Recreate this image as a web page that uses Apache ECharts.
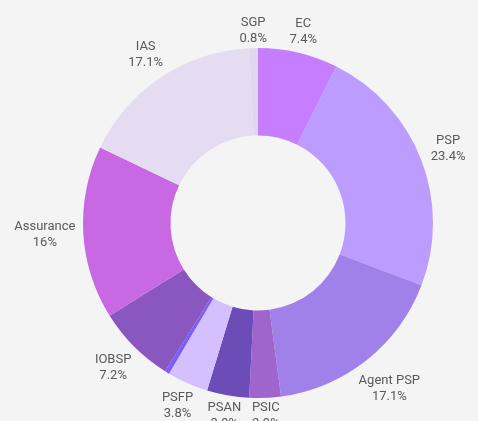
<!DOCTYPE html>
<html>
<head>
<meta charset="utf-8">
<script src="https://cdn.jsdelivr.net/npm/echarts@6/dist/echarts.min.js"></script>
<style>
html,body{margin:0;padding:0;background:#f4f4f4;}
#chart{width:478px;height:421px;}
</style>
</head>
<body>
<div id="chart"></div>
<script>
var categories = ['EC','PSP','Agent PSP','PSIC','PSAN','PSFP','Other','IOBSP','Assurance','IAS','SGP'];
var values = [7.4, 23.4, 17.1, 2.9, 3.9, 3.8, 0.4, 7.2, 16, 17.1, 0.8];
var colors = ['#c67dff','#bc9dff','#a080e9','#a064cd','#6c4db8','#d5c0ff','#7a5cff','#8a57c1','#c868e3','#e5dcf2','#e0d6ed'];

var CX = 258, CY = 223, R_IN = 87.5, R_OUT = 175, GAP_X = 7, GAP_Y = 1;

var total = values.reduce(function(a, b){ return a + b; }, 0);
var midAngles = [];
var acc = 0;
values.forEach(function(v){
  midAngles.push((acc + v / 2) / total * 2 * Math.PI);
  acc += v;
});

var sliceData = categories.map(function(c, i){
  return {name: c, value: values[i], itemStyle: {color: colors[i]}};
});

var chart = echarts.init(document.getElementById('chart'), null, {renderer: 'canvas'});
chart.setOption({
  backgroundColor: '#f4f4f4',
  animation: false,
  series: [
    {
      type: 'pie',
      center: [CX, CY],
      radius: [R_IN, R_OUT],
      startAngle: 90,
      clockwise: true,
      silent: true,
      minShowLabelAngle: 2,
      avoidLabelOverlap: false,
      label: {
        show: true,
        position: 'inside',
        formatter: '{b}\n{c}%',
        color: '#595959',
        fontFamily: 'Roboto',
        fontSize: 13,
        lineHeight: 16,
        align: 'center'
      },
      labelLine: {show: false},
      labelLayout: function(params){
        var a = midAngles[params.dataIndex];
        var s = Math.sin(a), c = Math.cos(a);
        var w = params.labelRect.width, h = params.labelRect.height;
        var r = R_OUT + GAP_X * Math.abs(s) + GAP_Y * Math.abs(c) + (w / 2) * Math.abs(s) + (h / 2) * Math.abs(c);
        return {x: CX + r * s, y: CY - r * c, align: 'center', verticalAlign: 'middle'};
      },
      data: sliceData
    }
  ]
});
</script>
</body>
</html>
